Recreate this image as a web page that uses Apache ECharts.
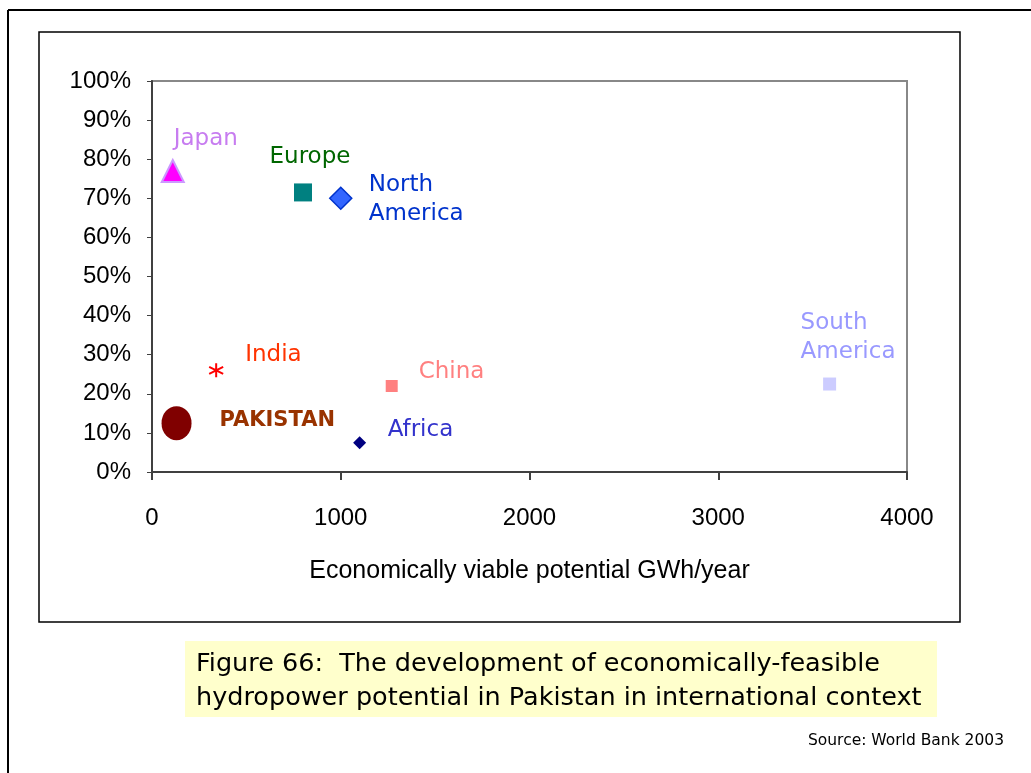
<!DOCTYPE html>
<html>
<head>
<meta charset="utf-8">
<script src="https://cdn.jsdelivr.net/npm/echarts@6/dist/echarts.min.js"></script>
<style>html,body{margin:0;padding:0;background:#fff;}#c{width:1031px;height:773px;}</style>
</head>
<body>
<div id="c"></div>
<script>
const countries = ['Japan', 'Europe', 'North\nAmerica', 'India', 'PAKISTAN', 'China', 'Africa', 'South\nAmerica'];
const potentialGWh = [110, 800, 1000, 340, 130, 1270, 1100, 3590];
const developedShare = [0.77, 0.715, 0.70, 0.26, 0.125, 0.22, 0.075, 0.225];
const xTicks = [0, 1000, 2000, 3000, 4000];
const yTicks = [0, 0.1, 0.2, 0.3, 0.4, 0.5, 0.6, 0.7, 0.8, 0.9, 1.0];

const labelFont = '"DejaVu Sans", sans-serif';
const styles = [
  {symbol: 'triangle', size: 22, color: '#ff00ff', border: '#cc99ff', bw: 2, lc: '#c77cf0', off: [33, -32], align: 'center', weight: 'normal'},
  {symbol: 'rect', size: 18, color: '#008080', border: '#008080', bw: 0, lc: '#006600', off: [7, -35], align: 'center', weight: 'normal'},
  {symbol: 'diamond', size: 22, color: '#3366ff', border: '#0033cc', bw: 1.5, lc: '#0033cc', off: [28, 1], align: 'left', weight: 'normal'},
  {symbol: 'path://M0,-10 L0,10 M-9,-5 L9,5 M-9,5 L9,-5', size: 14, color: 'transparent', border: '#ff0000', bw: 2, lc: '#ff3300', off: [29, -15], align: 'left', weight: 'normal'},
  {symbol: 'circle', size: [30, 34], color: '#800000', border: '#800000', bw: 0, lc: '#993300', off: [43, -3], align: 'left', weight: 'bold'},
  {symbol: 'rect', size: 12, color: '#ff8080', border: '#ff8080', bw: 0, lc: '#ff8080', off: [27, -14], align: 'left', weight: 'normal'},
  {symbol: 'diamond', size: 13, color: '#000080', border: '#000080', bw: 0, lc: '#3333cc', off: [28, -13], align: 'left', weight: 'normal'},
  {symbol: 'rect', size: 13, color: '#ccccff', border: '#ccccff', bw: 0, lc: '#9999ff', off: [-29, -46], align: 'left', weight: 'normal'}
];

const series = countries.map((name, i) => {
  const s = styles[i];
  return {
    type: 'scatter',
    name: name,
    symbol: s.symbol,
    symbolSize: s.size,
    itemStyle: {color: s.color, borderColor: s.border, borderWidth: s.bw, opacity: 1},
    data: [[potentialGWh[i], developedShare[i]]],
    label: {
      show: true,
      formatter: name,
      position: 'inside',
      offset: s.off,
      align: s.align,
      verticalAlign: 'middle',
      color: s.lc,
      fontFamily: labelFont,
      fontSize: s.weight === 'bold' ? 21 : 23,
      fontWeight: s.weight,
      lineHeight: 29
    },
    emphasis: {disabled: true},
    z: 5
  };
});

const chart = echarts.init(document.getElementById('c'), null, {renderer: 'canvas'});
chart.setOption({
  animation: false,
  backgroundColor: '#ffffff',
  grid: {left: 152, top: 81, right: 124, bottom: 301, show: true, borderColor: '#888888', borderWidth: 2, backgroundColor: 'transparent'},
  xAxis: {
    type: 'value', min: xTicks[0], max: xTicks[xTicks.length - 1], interval: 1000,
    name: 'Economically viable potential GWh/year',
    nameLocation: 'middle', nameGap: 87,
    nameTextStyle: {fontFamily: '"Liberation Sans", Arial, sans-serif', fontSize: 25, color: '#000', letterSpacing: -0.4},
    axisLine: {show: true, lineStyle: {color: '#404040', width: 2}},
    axisTick: {show: true, inside: false, length: 8, lineStyle: {color: '#404040', width: 2}},
    axisLabel: {margin: 34, fontFamily: '"Liberation Sans", Arial, sans-serif', fontSize: 24, color: '#000',
      formatter: v => String(v)},
    splitLine: {show: false}
  },
  yAxis: {
    type: 'value', min: yTicks[0], max: yTicks[yTicks.length - 1], interval: 0.1,
    axisLine: {show: true, lineStyle: {color: '#404040', width: 2}},
    axisTick: {show: true, inside: false, length: 5, lineStyle: {color: '#404040', width: 1}},
    axisLabel: {margin: 21, fontFamily: '"Liberation Sans", Arial, sans-serif', fontSize: 24, color: '#000',
      formatter: v => Math.round(v * 100) + '%'},
    splitLine: {show: false}
  },
  series: series,
  graphic: [
    {type: 'line', shape: {x1: 8, y1: 10, x2: 1031, y2: 10}, style: {stroke: '#000', lineWidth: 2}, z: 1},
    {type: 'line', shape: {x1: 8, y1: 10, x2: 8, y2: 773}, style: {stroke: '#000', lineWidth: 2}, z: 1},
    {type: 'rect', shape: {x: 39, y: 32, width: 921, height: 590}, style: {fill: 'transparent', stroke: '#000', lineWidth: 1.5}, z: 1},
    {type: 'rect', shape: {x: 185, y: 641, width: 752, height: 76}, style: {fill: '#ffffcc'}, z: 1},
    {type: 'text', left: 196, top: 647, style: {text: 'Figure 66:  The development of economically-feasible\nhydropower potential in Pakistan in international context', fill: '#000', font: '25.5px "DejaVu Sans", sans-serif', lineHeight: 34}, z: 2},
    {type: 'text', right: 27, top: 733, style: {text: 'Source: World Bank 2003', fill: '#000', font: '15.5px "DejaVu Sans", sans-serif'}, z: 2}
  ]
});
</script>
</body>
</html>
